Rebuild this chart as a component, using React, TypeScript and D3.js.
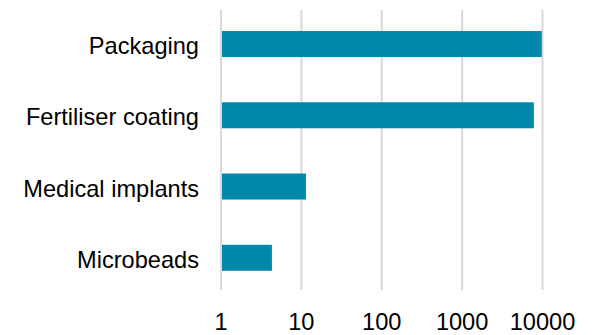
import React from "react";
import * as d3 from "d3";

const categories = ["Packaging", "Fertiliser coating", "Medical implants", "Microbeads"];
const values = [9800, 7800, 11.4, 4.3];
const tickValues = [1, 10, 100, 1000, 10000];
const tickLabels = ["1", "10", "100", "1000", "10000"];

const W = 594;
const H = 335;
const FONT = "'Liberation Sans', Arial, sans-serif";

export default function App() {
  const x = d3.scaleLog().domain([1, 10000]).range([221, 542.5]);
  const y = d3
    .scaleBand<string>()
    .domain(categories)
    .range([8.4, 293.4])
    .paddingInner(0.635)
    .paddingOuter(0.3175);

  return (
    <svg
      width={W}
      height={H}
      style={{ position: "absolute", left: 0, top: 0, background: "#fff" }}
    >
      {/* vertical gridlines */}
      {tickValues.map((t) => (
        <line
          key={"g" + t}
          x1={x(t)}
          x2={x(t)}
          y1={10}
          y2={290}
          stroke="#d9d9d9"
          strokeWidth={2}
        />
      ))}
      {/* bars */}
      {categories.map((c, i) => (
        <rect
          key={c}
          x={x(1) + 1}
          y={y(c)}
          width={x(values[i]) - x(1) - 1}
          height={y.bandwidth()}
          fill="#0088aa"
        />
      ))}
      {/* category labels */}
      {categories.map((c) => (
        <text
          key={"l" + c}
          x={199}
          y={(y(c) as number) + y.bandwidth() / 2 + 10}
          textAnchor="end"
          fontFamily={FONT}
          fontSize={23.6}
          fill="#000"
        >
          {c}
        </text>
      ))}
      {/* x tick labels */}
      {tickValues.map((t, i) => (
        <text
          key={"t" + t}
          x={x(t)}
          y={330}
          textAnchor="middle"
          fontFamily={FONT}
          fontSize={23.6}
          fill="#000"
        >
          {tickLabels[i]}
        </text>
      ))}
    </svg>
  );
}
